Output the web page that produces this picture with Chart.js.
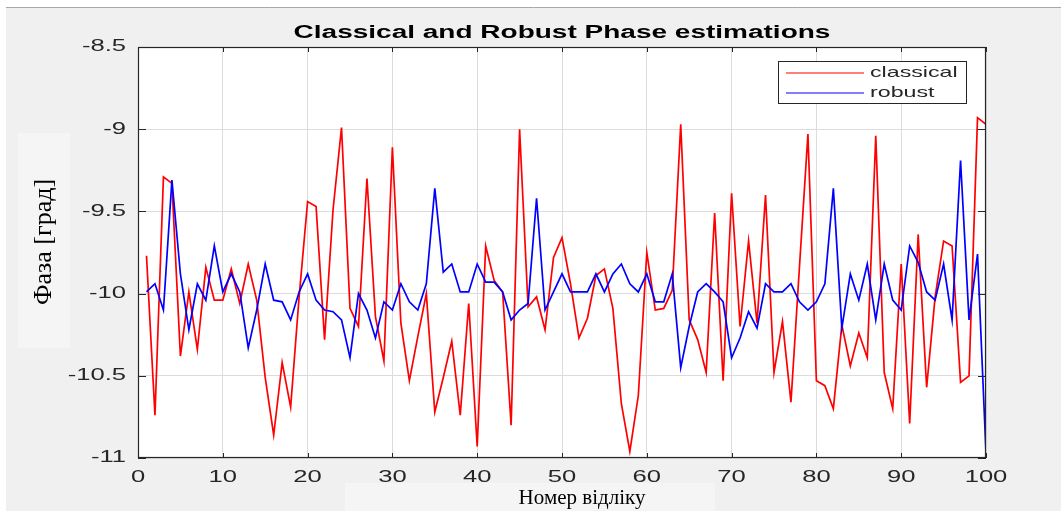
<!DOCTYPE html>
<html>
<head>
<meta charset="utf-8">
<title>Classical and Robust Phase estimations</title>
<script src="https://cdn.jsdelivr.net/npm/chart.js@4.4.1/dist/chart.umd.min.js"></script>
<style>
  html, body { margin: 0; padding: 0; background: #ffffff; }
  canvas { display: block; }
</style>
</head>
<body>
<canvas id="phase" width="1061" height="511"></canvas>
<script>
// Sample numbers (x axis)
const sampleNo = Array.from({ length: 100 }, (_, i) => i + 1);

// Phase estimates, degrees
const classical = [
  -9.77, -10.74, -9.29, -9.33, -10.38, -9.99, -10.34, -9.84, -10.04, -10.04,
  -9.85, -10.06, -9.82, -10.04, -10.51, -10.86, -10.42, -10.69, -10.02, -9.44,
  -9.47, -10.28, -9.49, -8.99, -10.09, -10.20, -9.30, -10.14, -10.41, -9.11,
  -10.18, -10.53, -10.26, -10.00, -10.72, -10.51, -10.29, -10.74, -10.06, -10.93,
  -9.71, -9.92, -9.99, -10.80, -9.00, -10.08, -10.02, -10.22, -9.78, -9.66,
  -9.94, -10.27, -10.15, -9.89, -9.85, -10.09, -10.67, -10.96, -10.62, -9.75,
  -10.10, -10.09, -9.98, -8.97, -10.16, -10.28, -10.48, -9.51, -10.53, -9.39,
  -10.20, -9.68, -10.18, -9.40, -10.48, -10.17, -10.66, -9.84, -9.03, -10.53,
  -10.56, -10.70, -10.19, -10.44, -10.24, -10.39, -9.04, -10.48, -10.70, -9.82,
  -10.79, -9.64, -10.57, -10.02, -9.68, -9.71, -10.54, -10.50, -8.93, -8.97
];

const robust = [
  -9.99, -9.94, -10.10, -9.31, -9.88, -10.22, -9.94, -10.04, -9.71, -9.99,
  -9.88, -9.99, -10.33, -10.10, -9.82, -10.04, -10.05, -10.16, -9.99, -9.88,
  -10.04, -10.10, -10.11, -10.16, -10.39, -10.00, -10.10, -10.27, -10.05, -10.10,
  -9.94, -10.05, -10.10, -9.94, -9.36, -9.87, -9.82, -9.99, -9.99, -9.82,
  -9.93, -9.93, -9.99, -10.16, -10.10, -10.06, -9.42, -10.10, -9.99, -9.88,
  -9.99, -9.99, -9.99, -9.88, -9.99, -9.88, -9.82, -9.94, -9.99, -9.88,
  -10.05, -10.05, -9.88, -10.45, -10.20, -9.99, -9.94, -9.99, -10.05, -10.39,
  -10.27, -10.11, -10.21, -9.94, -9.99, -9.99, -9.94, -10.05, -10.10, -10.05,
  -9.94, -9.36, -10.21, -9.88, -10.04, -9.82, -10.16, -9.82, -10.04, -10.10,
  -9.71, -9.81, -9.99, -10.04, -9.82, -10.16, -9.19, -10.16, -9.76, -10.97
];

// Tick values and their labels
const xTickValues = [0, 10, 20, 30, 40, 50, 60, 70, 80, 90, 100];
const xTickLabels = ['0', '10', '20', '30', '40', '50', '60', '70', '80', '90', '100'];
const yTickValues = [-8.5, -9, -9.5, -10, -10.5, -11];
const yTickLabels = ['-8.5', '-9', '-9.5', '-10', '-10.5', '-11'];

const seriesNames = ['classical', 'robust'];
const seriesColors = ['#ff0000', '#0000ff'];

const titleText = 'Classical and Robust Phase estimations';
const xTitleText = 'Номер відліку';
const yTitleText = 'Фаза [град]';

const AXIS_COLOR = '#262626';
const TEXT_STRETCH = 1.6; // figure text is wide relative to its height

function wideText(ctx, text, x, y, align, sx) {
  ctx.save();
  ctx.translate(x, y);
  ctx.scale(sx, 1);
  ctx.textAlign = align;
  ctx.fillText(text, 0, 0);
  ctx.restore();
}

// Figure frame: backgrounds, axes box, inward ticks, labels, legend and titles
const figureFrame = {
  id: 'figureFrame',
  beforeDraw(chart) {
    const { ctx, chartArea: a } = chart;
    ctx.save();
    ctx.fillStyle = '#ffffff';
    ctx.fillRect(0, 0, chart.width, chart.height);
    ctx.fillStyle = '#f0f0f0';
    ctx.fillRect(6, 8, chart.width - 6, chart.height - 8);
    ctx.strokeStyle = '#a8a8a8';
    ctx.lineWidth = 1;
    ctx.beginPath();
    ctx.moveTo(6, 7.5);
    ctx.lineTo(chart.width, 7.5);
    ctx.stroke();
    // lighter panels behind the axis captions
    ctx.fillStyle = '#f5f5f5';
    ctx.fillRect(18, 133, 52, 215);
    ctx.fillRect(345, 483, 370, 28);
    // plot background
    ctx.fillStyle = '#ffffff';
    ctx.fillRect(a.left, a.top, a.right - a.left, a.bottom - a.top);
    ctx.restore();
  },
  afterDraw(chart) {
    const { ctx, chartArea: a } = chart;
    const xs = chart.scales.x, ys = chart.scales.y;
    ctx.save();

    // axes box
    ctx.strokeStyle = AXIS_COLOR;
    ctx.lineWidth = 1.2;
    ctx.strokeRect(a.left + 0.5, a.top + 0.5, a.right - a.left - 1, a.bottom - a.top - 1);

    // inward tick marks
    ctx.lineWidth = 1;
    ctx.beginPath();
    xTickValues.forEach(v => {
      const px = Math.round(xs.getPixelForValue(v)) + 0.5;
      ctx.moveTo(px, a.bottom); ctx.lineTo(px, a.bottom - 5);
      ctx.moveTo(px, a.top); ctx.lineTo(px, a.top + 5);
    });
    yTickValues.forEach(v => {
      const py = Math.round(ys.getPixelForValue(v)) + 0.5;
      ctx.moveTo(a.left, py); ctx.lineTo(a.left + 8, py);
      ctx.moveTo(a.right, py); ctx.lineTo(a.right - 8, py);
    });
    ctx.stroke();

    // tick labels
    ctx.fillStyle = AXIS_COLOR;
    ctx.font = '16px "Liberation Sans", Arial, sans-serif';
    ctx.textBaseline = 'middle';
    xTickValues.forEach((v, i) => {
      wideText(ctx, xTickLabels[i], xs.getPixelForValue(v), a.bottom + 20, 'center', TEXT_STRETCH);
    });
    yTickValues.forEach((v, i) => {
      wideText(ctx, yTickLabels[i], a.left - 12, ys.getPixelForValue(v), 'right', TEXT_STRETCH);
    });

    // title
    ctx.fillStyle = '#000000';
    ctx.font = 'bold 17.5px "Liberation Sans", Arial, sans-serif';
    wideText(ctx, titleText, (a.left + a.right) / 2, 33, 'center', TEXT_STRETCH);

    // axis captions
    ctx.font = '21px "Liberation Serif", "Times New Roman", serif';
    ctx.textAlign = 'center';
    ctx.fillText(xTitleText, 582, 498);
    ctx.save();
    ctx.translate(44, 242);
    ctx.rotate(-Math.PI / 2);
    ctx.font = '26px "Liberation Serif", "Times New Roman", serif';
    ctx.fillText(yTitleText, 0, 0);
    ctx.restore();

    // legend
    const lx = 778, ly = 61, lw = 188, lh = 42;
    ctx.fillStyle = '#ffffff';
    ctx.fillRect(lx, ly, lw, lh);
    ctx.strokeStyle = AXIS_COLOR;
    ctx.lineWidth = 1;
    ctx.strokeRect(lx + 0.5, ly + 0.5, lw, lh);
    ctx.font = '14.5px "Liberation Sans", Arial, sans-serif';
    seriesNames.forEach((name, i) => {
      const yy = ly + 12 + i * 20;
      ctx.strokeStyle = seriesColors[i];
      ctx.lineWidth = 1.2;
      ctx.beginPath();
      ctx.moveTo(786, yy); ctx.lineTo(864, yy);
      ctx.stroke();
      ctx.fillStyle = AXIS_COLOR;
      wideText(ctx, name, 870, yy, 'left', TEXT_STRETCH);
    });

    ctx.restore();
  }
};

const toPoints = values => sampleNo.map((n, i) => ({ x: n, y: values[i] }));

new Chart(document.getElementById('phase'), {
  type: 'line',
  data: {
    datasets: [
      {
        label: seriesNames[0],
        data: toPoints(classical),
        borderColor: seriesColors[0],
        borderWidth: 1.7,
        pointRadius: 0,
        tension: 0,
        fill: false,
        order: 1
      },
      {
        label: seriesNames[1],
        data: toPoints(robust),
        borderColor: seriesColors[1],
        borderWidth: 1.7,
        pointRadius: 0,
        tension: 0,
        fill: false,
        order: 0
      }
    ]
  },
  options: {
    responsive: false,
    animation: false,
    devicePixelRatio: 1,
    layout: { padding: { left: 138, top: 47, right: 75, bottom: 53 } },
    scales: {
      x: {
        type: 'linear',
        min: 0,
        max: 100,
        afterBuildTicks: s => { s.ticks = xTickValues.map(v => ({ value: v })); },
        ticks: { display: false },
        grid: { color: '#dcdcdc', lineWidth: 1, drawTicks: false },
        border: { display: false }
      },
      y: {
        type: 'linear',
        min: -11,
        max: -8.5,
        afterBuildTicks: s => { s.ticks = yTickValues.map(v => ({ value: v })); },
        ticks: { display: false },
        grid: { color: '#dcdcdc', lineWidth: 1, drawTicks: false },
        border: { display: false }
      }
    },
    plugins: {
      legend: { display: false },
      title: { display: false },
      tooltip: { enabled: false }
    }
  },
  plugins: [figureFrame]
});
</script>
</body>
</html>
